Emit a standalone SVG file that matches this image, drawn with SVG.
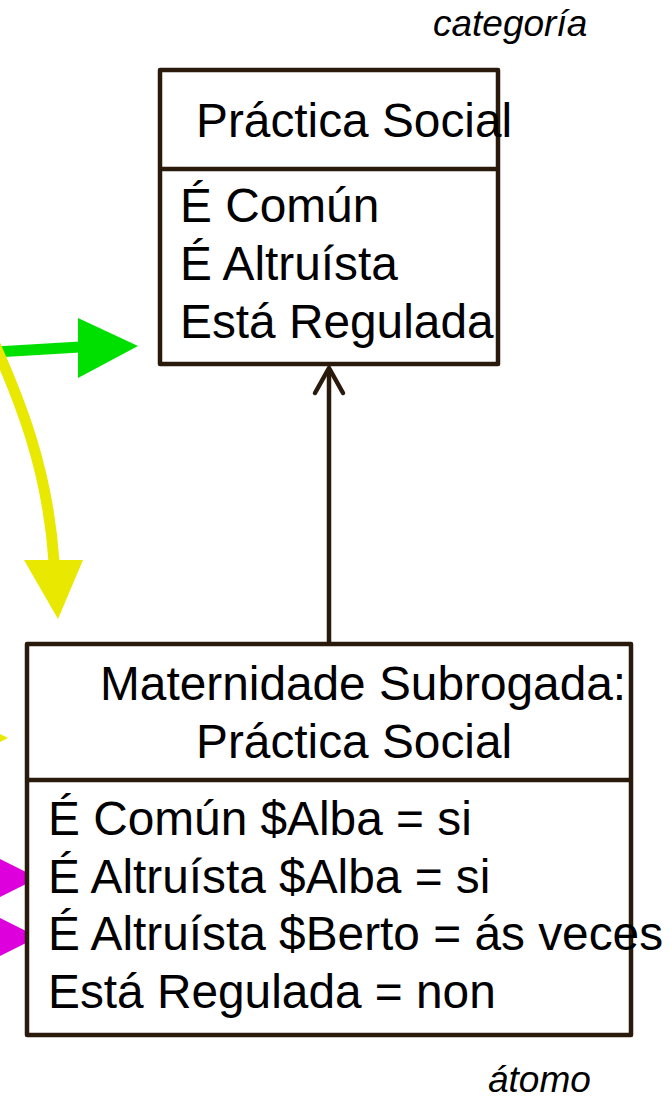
<svg xmlns="http://www.w3.org/2000/svg" width="671" height="1098" viewBox="0 0 671 1098">
<style>
.box{fill:#fff;stroke:#2a1a0c;stroke-width:4.5;stroke-linejoin:round}
.div{stroke:#2a1a0c;stroke-width:4.5}
.t{font-family:"Liberation Sans",Arial,sans-serif;font-size:47.8px;fill:#000}
.lab{font-family:"Liberation Sans",Arial,sans-serif;font-size:37px;font-style:italic;fill:#000}
</style>
<g id="connectors">
  <path d="M329 643 L329 369" stroke="#2a1a0c" stroke-width="4.5" fill="none"/>
  <path d="M315 393 L329 368 L343 393" stroke="#2a1a0c" stroke-width="4.5" fill="none" stroke-linecap="round" stroke-linejoin="round"/>
  <path d="M-5 352 L80 347" stroke="#00e000" stroke-width="11" fill="none"/>
  <polygon points="78,318 138,346 78,378" fill="#00e000"/>
  <path d="M-8 338 C 20 400, 48 470, 54 562" stroke="#e8e800" stroke-width="11" fill="none"/>
  <polygon points="24,560 83,560 58,619" fill="#e8e800"/>
  <polygon points="-52,708 8,738 -52,768" fill="#e8e800"/>
  <polygon points="-22,848 38,878 -22,908" fill="#dd00dd"/>
  <polygon points="-22,907 38,937 -22,967" fill="#dd00dd"/>
</g>
<g id="label-categoria"><text class="lab" x="433" y="36">categoría</text></g>
<g id="node-practica-social">
  <rect class="box" x="160" y="70" width="338" height="294"/>
  <line class="div" x1="160" y1="169" x2="498" y2="169"/>
  <text class="t" x="196" y="137">Práctica Social</text>
  <text class="t" x="180" y="222">É Común</text>
  <text class="t" x="180" y="280">É Altruísta</text>
  <text class="t" x="180" y="338">Está Regulada</text>
</g>
<g id="node-maternidade">
  <rect class="box" x="27" y="644" width="604" height="391"/>
  <line class="div" x1="27" y1="780" x2="631" y2="780"/>
  <text class="t" x="100" y="700">Maternidade Subrogada:</text>
  <text class="t" x="196" y="758">Práctica Social</text>
  <text class="t" x="48" y="835">É Común $Alba = si</text>
  <text class="t" x="48" y="893">É Altruísta $Alba = si</text>
  <text class="t" x="48" y="950">É Altruísta $Berto = ás veces</text>
  <text class="t" x="48" y="1008">Está Regulada = non</text>
</g>
<g id="label-atomo"><text class="lab" x="488" y="1092">átomo</text></g>
</svg>
